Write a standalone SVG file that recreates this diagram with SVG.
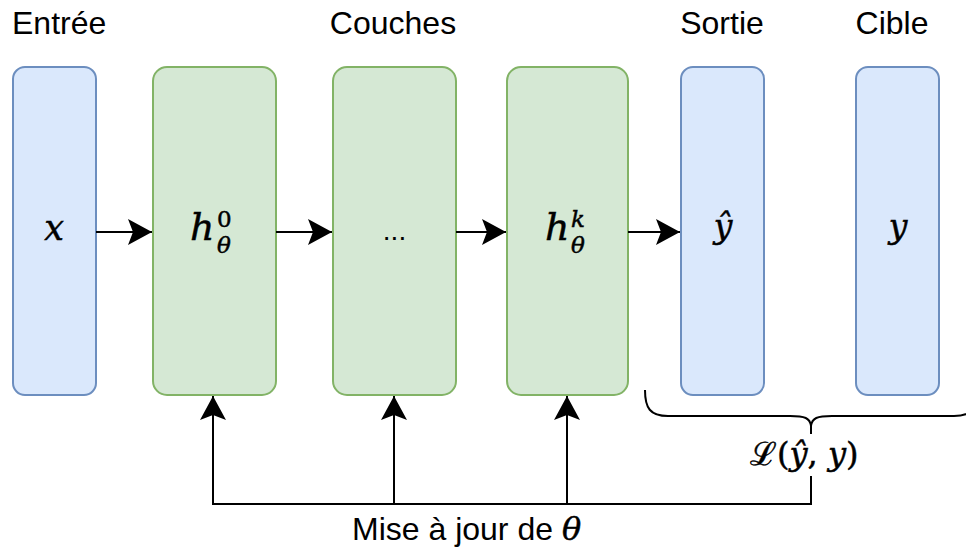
<svg xmlns="http://www.w3.org/2000/svg" width="966" height="552" viewBox="0 0 966 552">
  <defs>
    <marker id="arrow" markerUnits="userSpaceOnUse" markerWidth="24" markerHeight="26" viewBox="0 0 24 26" refX="24" refY="13" orient="auto">
      <path d="M0,0 L24,13 L0,26 L5,13 Z" fill="#000"/>
    </marker>
    <style>
      .io { fill: #dae8fc; stroke: #6c8ebf; stroke-width: 2; }
      .layer { fill: #d5e8d4; stroke: #82b366; stroke-width: 2; }
      .title { font-family: "Liberation Sans", Arial, sans-serif; font-size: 32px; fill: #000; }
      .math { font-family: "DejaVu Serif", "Liberation Serif", serif; font-style: italic; fill: #000; stroke: #000; stroke-width: 0.5; }
      .rm { font-style: normal; }
      .wire { fill: none; stroke: #000; stroke-width: 2; }
    </style>
  </defs>
  <rect width="966" height="552" fill="#fff"/>

  <!-- column headings -->
  <text class="title" x="12" y="34">Entrée</text>
  <text class="title" x="393" y="34" text-anchor="middle">Couches</text>
  <text class="title" x="722" y="34" text-anchor="middle">Sortie</text>
  <text class="title" x="892" y="34" text-anchor="middle">Cible</text>

  <!-- nodes -->
  <g id="input">
    <rect class="io" x="13" y="67" width="83" height="328" rx="12"/>
    <text class="math" x="54" y="240" font-size="35" text-anchor="middle">x</text>
  </g>
  <g id="layer0">
    <rect class="layer" x="153" y="67" width="123" height="328" rx="14"/>
    <text class="math" x="190" y="240" font-size="38">h</text>
    <text class="math rm" x="217" y="227" font-size="23">0</text>
    <text class="math" x="217" y="253" font-size="23">θ</text>
  </g>
  <g id="layerMid">
    <rect class="layer" x="333" y="67" width="123" height="328" rx="14"/>
    <text class="title" x="394.5" y="240" text-anchor="middle" style="font-size:28px">...</text>
  </g>
  <g id="layerK">
    <rect class="layer" x="507" y="67" width="121" height="328" rx="14"/>
    <text class="math" x="545" y="240" font-size="38">h</text>
    <text class="math" x="571" y="227" font-size="23">k</text>
    <text class="math" x="571" y="253" font-size="23">θ</text>
  </g>
  <g id="output">
    <rect class="io" x="681" y="67" width="83" height="328" rx="12"/>
    <text class="math" x="723" y="238" font-size="33" text-anchor="middle">ŷ</text>
  </g>
  <g id="target">
    <rect class="io" x="856" y="67" width="83" height="328" rx="12"/>
    <text class="math" x="898" y="238" font-size="33" text-anchor="middle">y</text>
  </g>

  <!-- connectors -->
  <g id="connectors">
    <line class="wire" x1="96" y1="232" x2="152" y2="232" marker-end="url(#arrow)"/>
    <line class="wire" x1="276" y1="232" x2="332" y2="232" marker-end="url(#arrow)"/>
    <line class="wire" x1="456" y1="232" x2="506" y2="232" marker-end="url(#arrow)"/>
    <line class="wire" x1="628" y1="232" x2="680" y2="232" marker-end="url(#arrow)"/>

    <!-- loss brace over output and target -->
    <path class="wire" d="M645,390 C645,408 650,416 668,416 L790,416 C805,416 810,418 811,426 C812,418 817,416 832,416 L954,416 C972,416 977,408 977,390"/>
    <!-- parameter update feedback -->
    <polyline class="wire" points="811,426 811,504 213,504 213,396" marker-end="url(#arrow)"/>
    <line class="wire" x1="394" y1="504" x2="394" y2="396" marker-end="url(#arrow)"/>
    <line class="wire" x1="567" y1="504" x2="567" y2="396" marker-end="url(#arrow)"/>
  </g>

  <!-- loss label -->
  <g id="loss">
    <rect x="746" y="434" width="116" height="42" fill="#fff"/>
    <text class="math" x="750" y="465" font-size="32"><tspan class="rm">ℒ(</tspan>ŷ<tspan class="rm">, </tspan>y<tspan class="rm">)</tspan></text>
  </g>

  <text class="title" x="352" y="540">Mise à jour de <tspan class="math" font-size="32" stroke-width="0">θ</tspan></text>
</svg>
